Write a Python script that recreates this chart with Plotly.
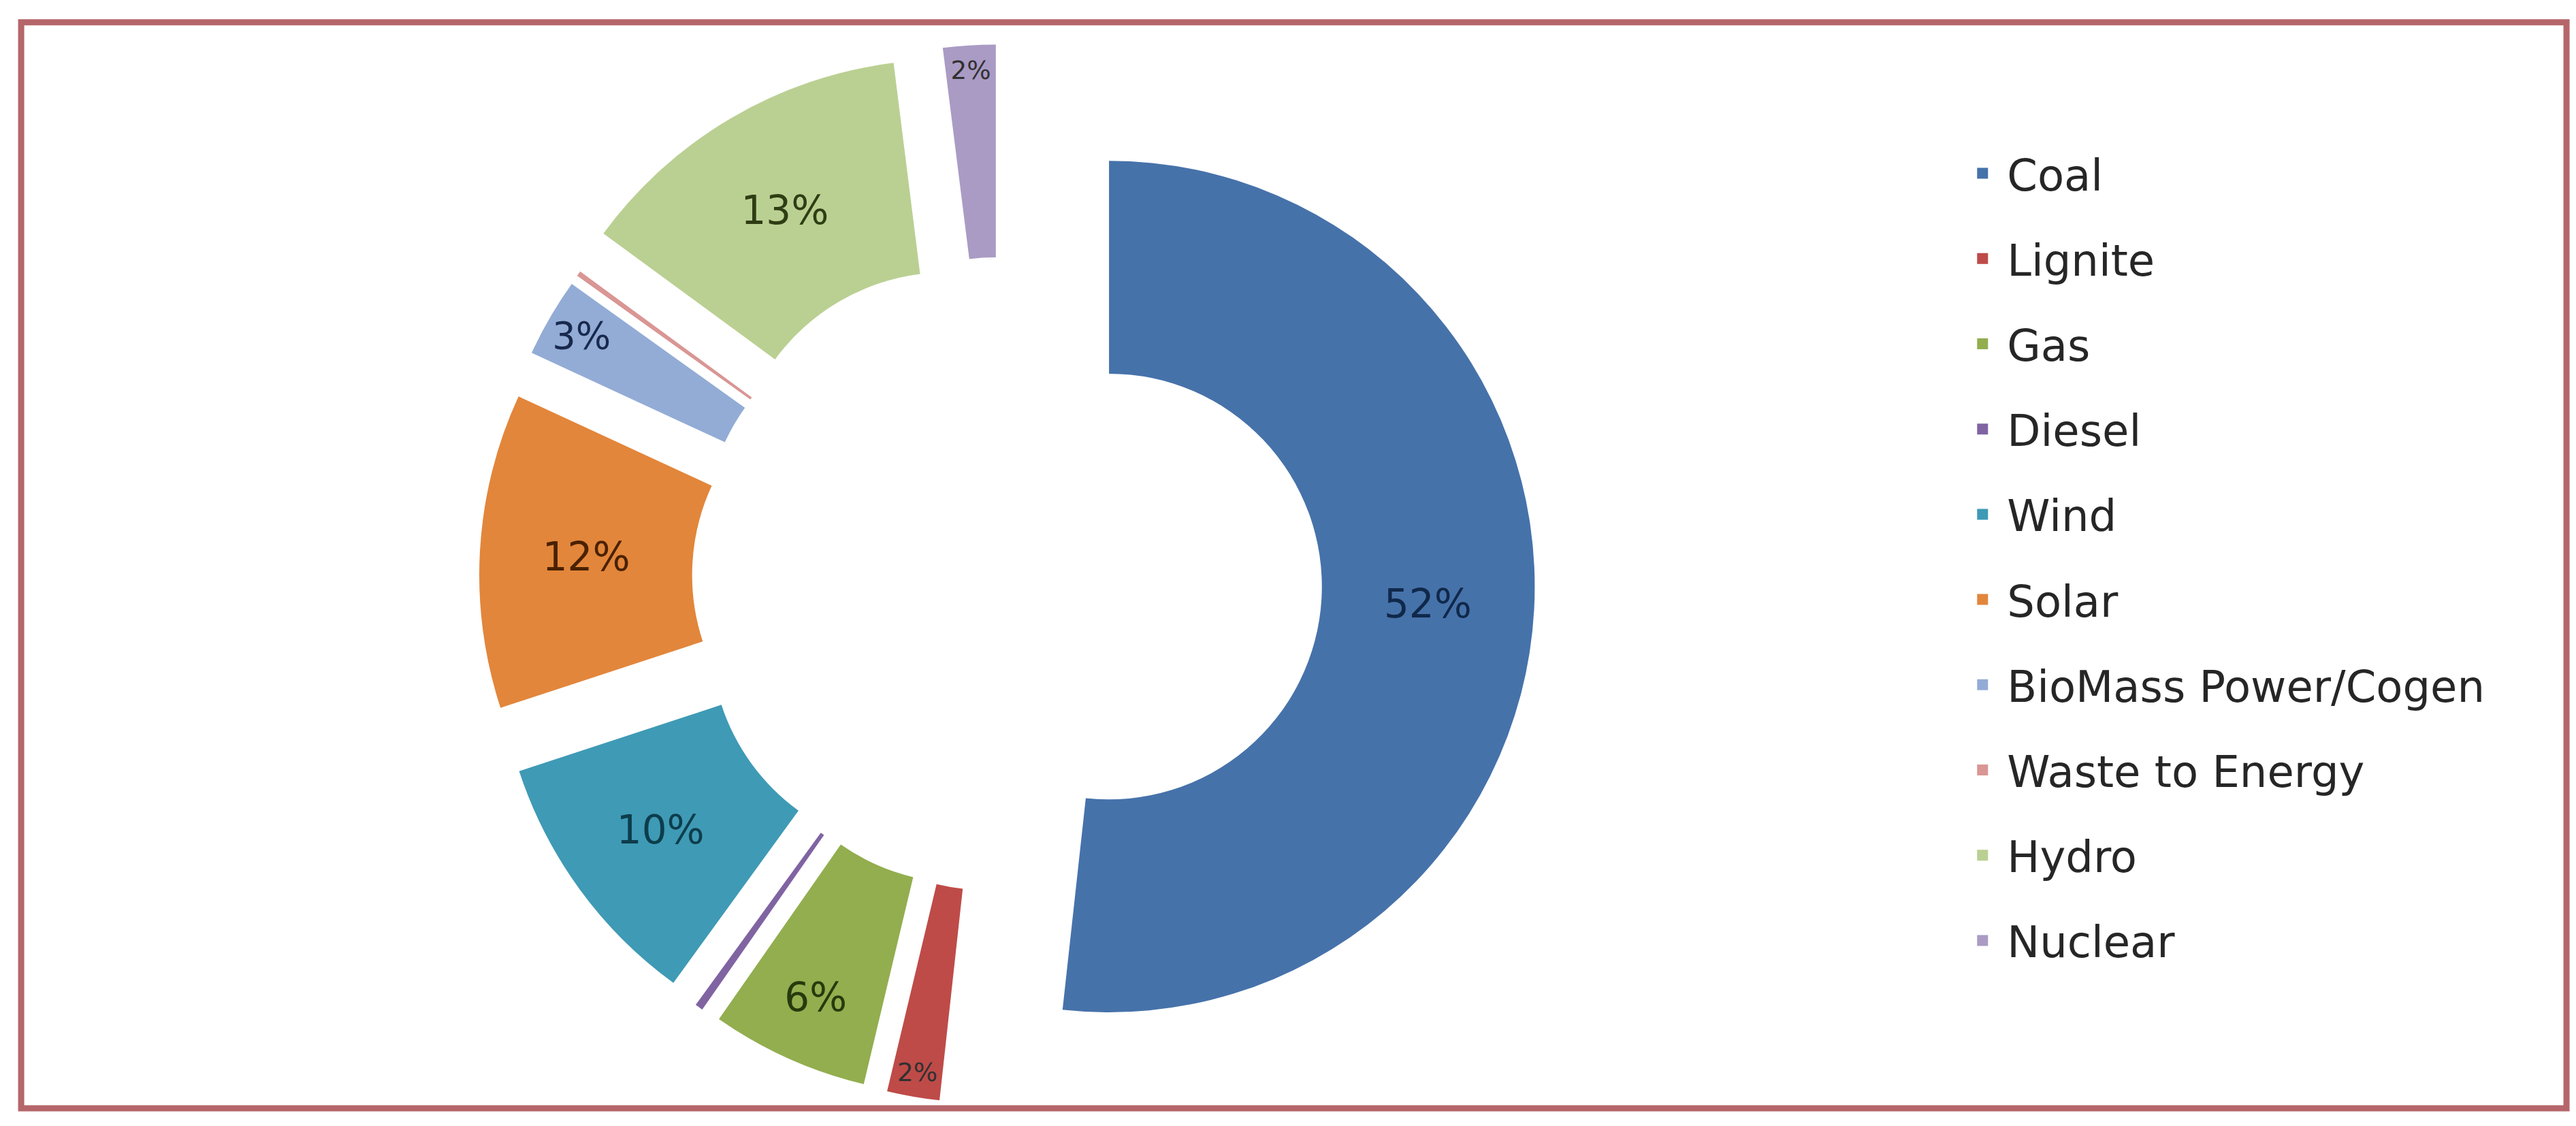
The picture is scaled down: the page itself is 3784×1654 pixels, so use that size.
## Donut chart - installed capacity share by fuel type
import plotly.graph_objs as go

## data
labels = ['Coal', 'Lignite', 'Gas', 'Diesel', 'Wind', 'Solar',
          'BioMass Power/Cogen', 'Waste to Energy', 'Hydro', 'Nuclear']
shares = [52, 2, 6, 0.3, 10, 12, 3, 0.2, 13, 2]

## styles
colors = ['#4672aa', '#be4b48', '#92ae4f', '#8064a2', '#3f9ab5', '#e2863b',
          '#93acd6', '#d99694', '#bad092', '#aa9bc5']
text_colors = ['#10284a', '#303030', '#263a0c', '#303030', '#0d3d4c', '#4a2100',
               '#18294d', '#303030', '#2f3d14', '#303030']
pulls = [0.25, 0.23, 0.23, 0.23, 0.23, 0.23, 0.23, 0.23, 0.26, 0.26]

W, H = 3784, 1654
FONT = 'DejaVu Sans'

## only the shares of one percent or more get a label
text = [('%g%%' % v) if v >= 1 else '' for v in shares]
text_pos = ['inside' if v >= 1 else 'none' for v in shares]

pie = go.Pie(
    labels=labels,
    values=shares,
    text=text,
    textinfo='text',
    textposition=text_pos,
    insidetextorientation='horizontal',
    textfont=dict(family=FONT, size=58, color=text_colors),
    hole=0.5,
    pull=pulls,
    sort=False,
    direction='clockwise',
    rotation=0,
    marker=dict(colors=colors, line=dict(width=0)),
    domain=dict(x=[0.1789, 0.5954], y=[0.0127, 0.9655]),
    showlegend=False,
)

## legend entries (one group each so the gap can be set)
legend_traces = [
    go.Scatter(x=[None], y=[None], mode='markers', name=lab, legendgroup=lab,
               marker=dict(symbol='square', size=16, color=col))
    for lab, col in zip(labels, colors)
]

layout = go.Layout(
    width=W, height=H,
    margin=dict(l=0, r=0, t=0, b=0, autoexpand=False),
    paper_bgcolor='white', plot_bgcolor='white',
    xaxis=dict(visible=False), yaxis=dict(visible=False),
    font=dict(family=FONT, color='#262626'),
    legend=dict(x=0.758, y=0.880, xanchor='left', yanchor='top',
                font=dict(size=64, color='#262626'), maxheight=1,
                itemwidth=62,
                tracegroupgap=39, itemsizing='trace', bgcolor='rgba(0,0,0,0)'),
    shapes=[dict(type='rect', xref='paper', yref='paper',
                 x0=0.0061, x1=0.9942, y0=0.0206, y1=0.985,
                 line=dict(color='#b5666a', width=9))],
)

fig = go.Figure(data=[pie] + legend_traces, layout=layout)
fig.write_html("out.html")
